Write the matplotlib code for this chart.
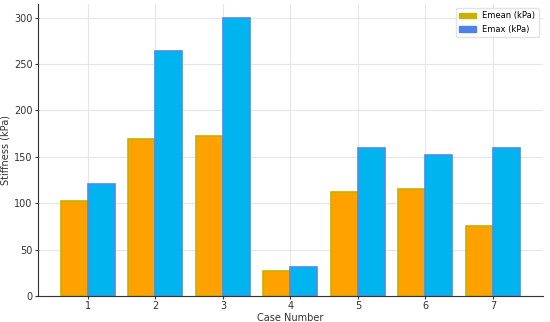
import matplotlib
matplotlib.use("Agg")
import matplotlib.pyplot as plt
import numpy as np
from matplotlib.patches import Patch

cases = [1, 2, 3, 4, 5, 6, 7]
emean = [102, 169, 173, 27, 112, 115, 75]
emax = [121, 264, 300, 31, 160, 152, 160]

fig = plt.figure(figsize=(5.5, 3.22), dpi=100)
ax = fig.add_axes([0.069, 0.081, 0.918, 0.907])

x = np.array(cases)
w = 0.4
ax.bar(x - w/2, emean, width=w, color='#FFA200', edgecolor='#C8B000', linewidth=1.2, zorder=2)
ax.bar(x + w/2, emax, width=w, color='#00B4F0', edgecolor='#4A8CE8', linewidth=1.2, zorder=2)

ax.set_xticks(cases)
ax.set_ylim(0, 315)
ax.set_yticks([0, 50, 100, 150, 200, 250, 300])
ax.grid(True, color='#e6e6e6', linewidth=0.8, zorder=0)
ax.set_axisbelow(True)
for s in ['top', 'right']:
    ax.spines[s].set_visible(False)
ax.spines['left'].set_color('#333333')
ax.spines['bottom'].set_color('#333333')
ax.tick_params(labelsize=7, colors='#333333', length=2, pad=2)
ax.set_xlabel('Case Number', fontsize=7, color='#333333', labelpad=1)
ax.set_ylabel('Stiffness (kPa)', fontsize=7, color='#333333', labelpad=2)

handles = [Patch(color='#C8B400', label='Emean (kPa)'), Patch(color='#5080E8', label='Emax (kPa)')]
ax.legend(handles=handles, loc='upper right', fontsize=6, frameon=True, framealpha=0.9, edgecolor='#e0e0e0')

fig.savefig('out.png', dpi=100)
